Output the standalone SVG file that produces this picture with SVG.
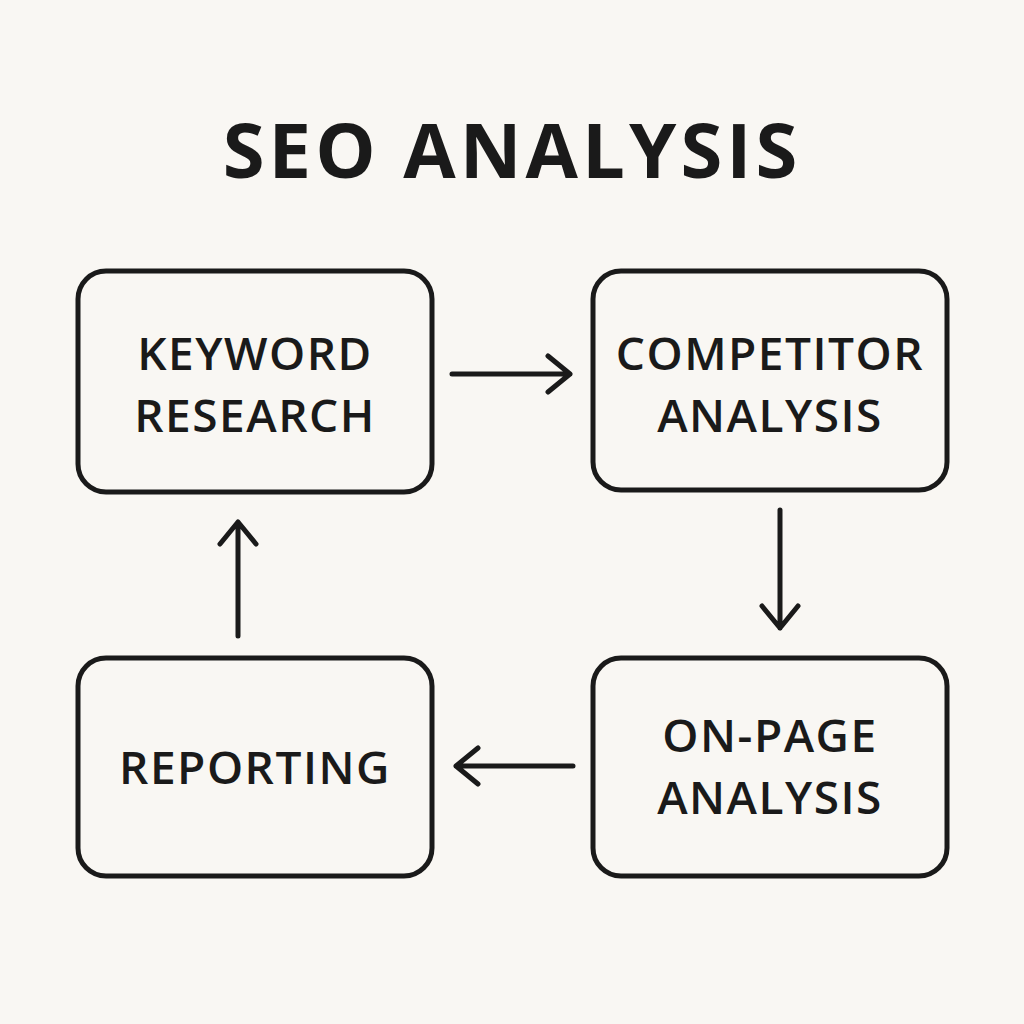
<svg xmlns="http://www.w3.org/2000/svg" width="1024" height="1024" viewBox="0 0 1024 1024">
<style>
.box{fill:none;stroke:#1a1a1a;stroke-width:5}
.t{font-family:"Open Sans","DejaVu Sans",sans-serif;font-weight:600;font-size:46px;letter-spacing:1.5px;fill:#1a1a1a;text-anchor:middle}
.c{fill:none;stroke:#1a1a1a;stroke-width:5;stroke-linecap:round;stroke-linejoin:round}
</style>
<rect width="1024" height="1024" fill="#f9f7f3"/>
<text x="512" y="178" class="t" style="font-size:76px;font-weight:700;letter-spacing:4px">SEO ANALYSIS</text>
<g id="keyword"><rect class="box" x="78" y="271" width="354" height="221" rx="28"/><text class="t" x="255" y="370">KEYWORD</text><text class="t" x="255" y="432">RESEARCH</text></g>
<g id="competitor"><rect class="box" x="593" y="271" width="354" height="219" rx="28"/><text class="t" x="770" y="370">COMPETITOR</text><text class="t" x="770" y="432">ANALYSIS</text></g>
<g id="reporting"><rect class="box" x="78" y="658" width="354" height="218" rx="28"/><text class="t" x="255" y="784">REPORTING</text></g>
<g id="onpage"><rect class="box" x="593" y="658" width="354" height="218" rx="28"/><text class="t" x="770" y="752">ON-PAGE</text><text class="t" x="770" y="814">ANALYSIS</text></g>
<g id="connectors">
<path class="c" d="M452 374H570M548 356L570 374L548 392"/>
<path class="c" d="M780 510V628M762 606L780 628L798 606"/>
<path class="c" d="M573 766H456M478 748L456 766L478 784"/>
<path class="c" d="M238 636V522M220 544L238 522L256 544"/>
</g>
</svg>
